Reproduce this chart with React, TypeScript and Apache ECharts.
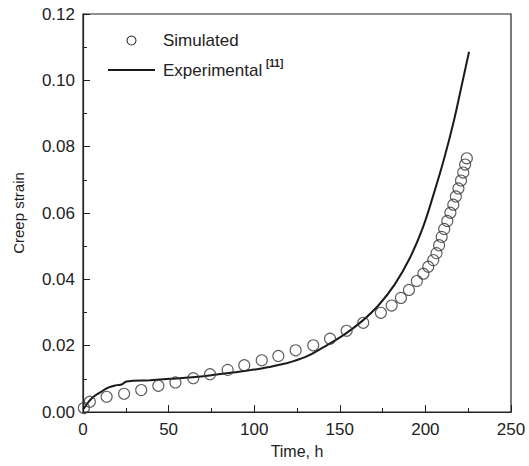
import React, { useEffect, useRef } from "react";
import * as echarts from "echarts";

const xTicks = [0, 50, 100, 150, 200, 250];
const yTicks = [0, 0.02, 0.04, 0.06, 0.08, 0.1, 0.12];

const simulated: [number, number][] = [
  [0.5, 0.0012], [4, 0.0031], [13.8, 0.0046], [24, 0.0055], [34, 0.0066], [44, 0.0079],
  [54, 0.0089], [64.4, 0.0102], [74.2, 0.0114], [84.5, 0.0127], [94.2, 0.0141],
  [104.4, 0.0156], [114.1, 0.0169], [124.2, 0.0186], [134.5, 0.0201], [144.3, 0.0221],
  [154, 0.0245], [163.7, 0.0269], [174, 0.0299], [180.3, 0.0321], [185.7, 0.0344],
  [190.4, 0.0368], [195, 0.0395], [198.8, 0.0417], [201.7, 0.0438], [204.6, 0.0458],
  [206.5, 0.0479], [208, 0.0503], [209.5, 0.0528], [211, 0.0552], [212.8, 0.0576],
  [214.6, 0.0601], [216.3, 0.0625], [217.8, 0.065], [219.3, 0.0674], [220.8, 0.0698],
  [222.1, 0.0722], [223.2, 0.0746], [224.2, 0.0765],
];

const experimental: [number, number][] = [
  [0.3, 0.0009], [1.2, 0.0016], [5, 0.0041], [10, 0.0059], [15, 0.0074], [19.7, 0.0081],
  [22.6, 0.0083], [25.5, 0.0092], [39, 0.0096], [51, 0.01], [64, 0.0105], [78, 0.0113],
  [92, 0.0122], [105, 0.0132], [118, 0.0146], [130, 0.0166], [141, 0.0197], [153, 0.0235],
  [163, 0.0274], [172.5, 0.0321], [182, 0.0384], [191, 0.0465], [198.5, 0.0556],
  [205, 0.066], [211, 0.0765], [216.5, 0.0875], [221, 0.098], [225.5, 0.1086],
];

const FONT = "'Liberation Sans', Arial, sans-serif";
const INK = "#222";

export default function App() {
  const ref = useRef<HTMLDivElement>(null);
  useEffect(() => {
    if (!ref.current) return;
    const chart = echarts.init(ref.current, undefined, { renderer: "svg" });
    chart.setOption({
      animation: false,
      backgroundColor: "#fff",
      grid: {
        left: 83,
        right: 18,
        top: 14,
        bottom: 54,
        show: true,
        borderColor: INK,
        borderWidth: 1.2,
      },
      xAxis: {
        type: "value",
        min: xTicks[0],
        max: xTicks[xTicks.length - 1],
        interval: 50,
        name: "Time, h",
        nameLocation: "middle",
        nameGap: 31,
        nameTextStyle: { fontFamily: FONT, fontSize: 16, color: INK },
        axisLine: { show: true, lineStyle: { color: INK, width: 1.2 } },
        axisTick: { show: true, inside: true, length: 7, lineStyle: { color: INK } },
        minorTick: { show: true, splitNumber: 2, length: 4, lineStyle: { color: INK } },
        splitLine: { show: false },
        axisLabel: { fontFamily: FONT, fontSize: 17, color: INK, margin: 9 },
      },
      yAxis: {
        type: "value",
        min: yTicks[0],
        max: yTicks[yTicks.length - 1],
        interval: 0.02,
        name: "Creep strain",
        nameLocation: "middle",
        nameGap: 57,
        nameTextStyle: { fontFamily: FONT, fontSize: 15, color: INK },
        axisLine: { show: true, lineStyle: { color: INK, width: 1.2 } },
        axisTick: { show: true, inside: true, length: 7, lineStyle: { color: INK } },
        minorTick: { show: true, splitNumber: 2, length: 4, lineStyle: { color: INK } },
        splitLine: { show: false },
        axisLabel: {
          fontFamily: FONT,
          fontSize: 17,
          color: INK,
          margin: 8,
          formatter: (v: number) => v.toFixed(2),
        },
      },
      series: [
        {
          type: "scatter",
          name: "Simulated",
          data: simulated,
          symbol: "circle",
          symbolSize: 11,
          itemStyle: { color: "rgba(0,0,0,0)", borderColor: "#333", borderWidth: 1.1 },
          z: 3,
        },
        {
          type: "line",
          name: "Experimental",
          data: experimental,
          showSymbol: false,
          smooth: 0.4,
          lineStyle: { color: "#1a1a1a", width: 2 },
          z: 2,
        },
      ],
      graphic: [
        {
          type: "circle",
          shape: { cx: 131.5, cy: 40.5, r: 4.5 },
          style: { fill: "rgba(0,0,0,0)", stroke: "#333", lineWidth: 1.1 },
        },
        {
          type: "text",
          x: 163,
          y: 40,
          style: {
            text: "Simulated",
            fontFamily: FONT,
            fontSize: 17,
            fill: INK,
            verticalAlign: "middle",
          },
        },
        {
          type: "line",
          shape: { x1: 108, y1: 70, x2: 155, y2: 70 },
          style: { stroke: "#1a1a1a", lineWidth: 2 },
        },
        {
          type: "text",
          x: 163,
          y: 70,
          style: {
            text: "Experimental",
            fontFamily: FONT,
            fontSize: 17,
            fill: INK,
            verticalAlign: "middle",
          },
        },
        {
          type: "text",
          x: 266,
          y: 63,
          style: {
            text: "[11]",
            fontFamily: FONT,
            fontSize: 10,
            fontWeight: "bold",
            fill: INK,
            verticalAlign: "middle",
          },
        },
      ],
    });
    return () => chart.dispose();
  }, []);
  return <div ref={ref} style={{ width: 529, height: 466, position: "absolute", left: 0, top: 0 }} />;
}
